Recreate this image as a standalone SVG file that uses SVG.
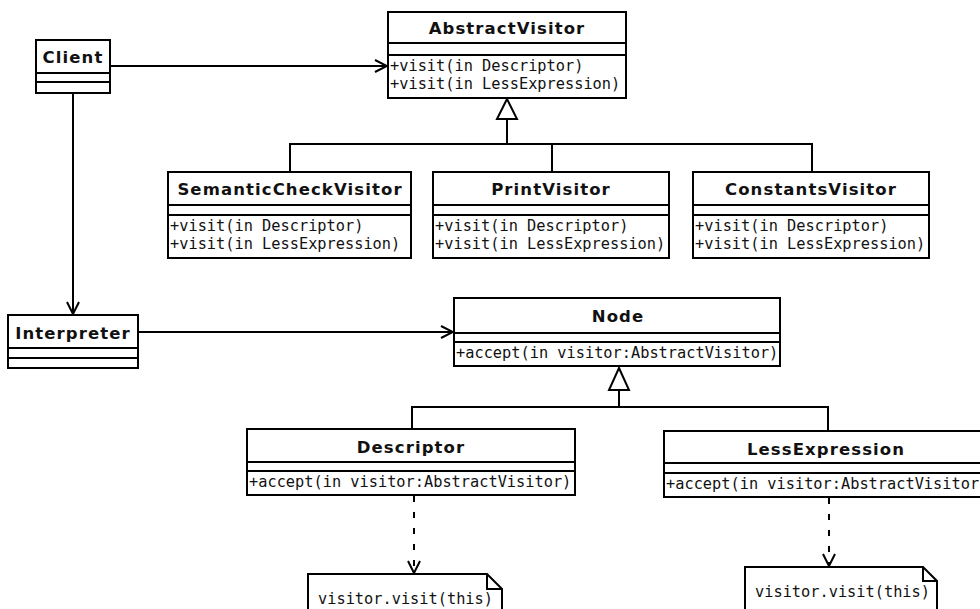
<svg xmlns="http://www.w3.org/2000/svg" width="980" height="609" viewBox="0 0 980 609">
  <style>
    .box { fill: #fff; stroke: #000; stroke-width: 2; }
    .sep { stroke: #000; stroke-width: 2; }
    .name { font-family: "DejaVu Sans", sans-serif; font-weight: bold; font-size: 16.5px; letter-spacing: 1.1px; text-anchor: middle; fill: #111; }
    .op { font-family: "DejaVu Sans Mono", monospace; font-size: 15.3px; fill: #111; }
    .line { fill: none; stroke: #000; stroke-width: 2; }
    .dash { fill: none; stroke: #000; stroke-width: 2; stroke-dasharray: 6 10; }
    .tri { fill: #fff; stroke: #000; stroke-width: 2; }
    .note { fill: #fff; stroke: #000; stroke-width: 2; }
  </style>
  <defs>
    <marker id="open" viewBox="0 0 14 14" refX="13" refY="7" markerWidth="14" markerHeight="14" markerUnits="userSpaceOnUse" orient="auto">
      <path d="M1,1 L13,7 L1,13" fill="none" stroke="#000" stroke-width="2"/>
    </marker>
    <!-- operation compartments clip their text at the box border -->
    <clipPath id="clip-node"><rect x="454" y="342" width="326" height="24"/></clipPath>
    <clipPath id="clip-descriptor"><rect x="247" y="471" width="328" height="24"/></clipPath>
  </defs>
  <rect width="980" height="609" fill="#fff"/>

  <!-- connectors -->
  <g id="connectors">
    <line class="line" x1="110" y1="66" x2="387" y2="66" marker-end="url(#open)"/>
    <line class="line" x1="73" y1="93" x2="73" y2="314" marker-end="url(#open)"/>
    <line class="line" x1="138" y1="332" x2="453" y2="332" marker-end="url(#open)"/>
    <!-- visitor hierarchy -->
    <polyline class="line" points="507,119 507,144"/>
    <polyline class="line" points="290,172 290,144 812,144 812,172"/>
    <line class="line" x1="552" y1="144" x2="552" y2="172"/>
    <polygon class="tri" points="507,99 497,119 517,119"/>
    <!-- node hierarchy -->
    <polyline class="line" points="619,390 619,407"/>
    <polyline class="line" points="412,429 412,407 828,407 828,431"/>
    <polygon class="tri" points="619,368 609,390 629,390"/>
    <!-- note links -->
    <line class="dash" x1="414" y1="496" x2="414" y2="573" marker-end="url(#open)"/>
    <line class="dash" x1="829" y1="498" x2="829" y2="566" marker-end="url(#open)"/>
  </g>

  <g id="client">
    <rect class="box" x="36" y="40" width="74" height="53"/>
    <line class="sep" x1="36" y1="73" x2="110" y2="73"/>
    <line class="sep" x1="36" y1="82" x2="110" y2="82"/>
    <text class="name" x="73" y="63">Client</text>
  </g>

  <g id="abstract-visitor">
    <rect class="box" x="388" y="12" width="238" height="86"/>
    <line class="sep" x1="388" y1="43" x2="626" y2="43"/>
    <line class="sep" x1="388" y1="55" x2="626" y2="55"/>
    <text class="name" x="507" y="34">AbstractVisitor</text>
    <text class="op" x="390" y="71">+visit(in Descriptor)</text>
    <text class="op" x="390" y="89">+visit(in LessExpression)</text>
  </g>

  <g id="semantic-check-visitor">
    <rect class="box" x="168" y="172" width="243" height="86"/>
    <line class="sep" x1="168" y1="205" x2="411" y2="205"/>
    <line class="sep" x1="168" y1="215" x2="411" y2="215"/>
    <text class="name" x="290" y="195">SemanticCheckVisitor</text>
    <text class="op" x="170" y="231">+visit(in Descriptor)</text>
    <text class="op" x="170" y="249">+visit(in LessExpression)</text>
  </g>

  <g id="print-visitor">
    <rect class="box" x="433" y="172" width="236" height="86"/>
    <line class="sep" x1="433" y1="205" x2="669" y2="205"/>
    <line class="sep" x1="433" y1="215" x2="669" y2="215"/>
    <text class="name" x="551" y="195">PrintVisitor</text>
    <text class="op" x="435" y="231">+visit(in Descriptor)</text>
    <text class="op" x="435" y="249">+visit(in LessExpression)</text>
  </g>

  <g id="constants-visitor">
    <rect class="box" x="693" y="172" width="236" height="86"/>
    <line class="sep" x1="693" y1="205" x2="929" y2="205"/>
    <line class="sep" x1="693" y1="215" x2="929" y2="215"/>
    <text class="name" x="811" y="195">ConstantsVisitor</text>
    <text class="op" x="695" y="231">+visit(in Descriptor)</text>
    <text class="op" x="695" y="249">+visit(in LessExpression)</text>
  </g>

  <g id="interpreter">
    <rect class="box" x="8" y="315" width="130" height="53"/>
    <line class="sep" x1="8" y1="348" x2="138" y2="348"/>
    <line class="sep" x1="8" y1="358" x2="138" y2="358"/>
    <text class="name" x="73" y="339">Interpreter</text>
  </g>

  <g id="node">
    <rect class="box" x="454" y="298" width="326" height="68"/>
    <line class="sep" x1="454" y1="333" x2="780" y2="333"/>
    <line class="sep" x1="454" y1="342" x2="780" y2="342"/>
    <text class="name" x="618" y="322">Node</text>
    <text class="op" x="456" y="358" clip-path="url(#clip-node)">+accept(in visitor:AbstractVisitor)</text>
  </g>

  <g id="descriptor">
    <rect class="box" x="247" y="429" width="328" height="66"/>
    <line class="sep" x1="247" y1="462" x2="575" y2="462"/>
    <line class="sep" x1="247" y1="471" x2="575" y2="471"/>
    <text class="name" x="411" y="453">Descriptor</text>
    <text class="op" x="249" y="487" clip-path="url(#clip-descriptor)">+accept(in visitor:AbstractVisitor)</text>
  </g>

  <g id="less-expression">
    <rect class="box" x="664" y="431" width="330" height="66"/>
    <line class="sep" x1="664" y1="463" x2="994" y2="463"/>
    <line class="sep" x1="664" y1="473" x2="994" y2="473"/>
    <text class="name" x="826" y="455">LessExpression</text>
    <text class="op" x="666" y="489">+accept(in visitor:AbstractVisitor)</text>
  </g>

  <g id="note-descriptor">
    <path class="note" d="M308,574 H487 L502,589 V620 H308 Z"/>
    <path class="line" d="M487,574 V589 H502"/>
    <text class="op" x="318" y="604">visitor.visit(this)</text>
  </g>

  <g id="note-less-expression">
    <path class="note" d="M745,567 H923 L937,581 V620 H745 Z"/>
    <path class="line" d="M923,567 V581 H937" stroke-width="1.5"/>
    <text class="op" x="755" y="597">visitor.visit(this)</text>
  </g>
</svg>
